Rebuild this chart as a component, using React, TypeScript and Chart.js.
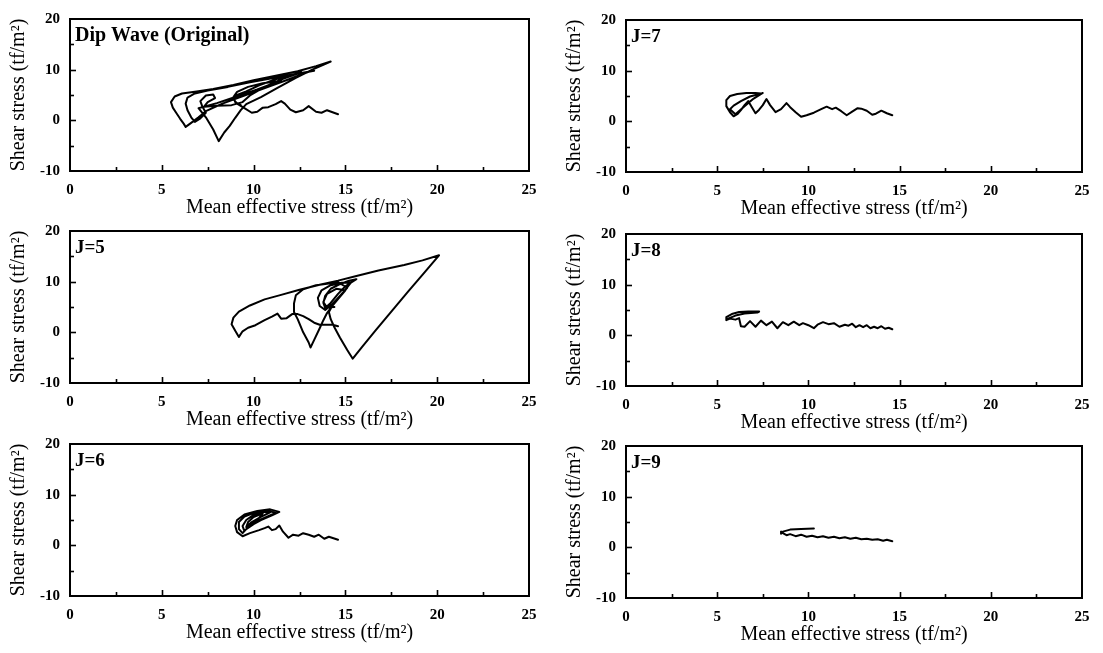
import React, { useEffect, useRef } from "react";
import { Chart, registerables } from "chart.js";

Chart.register(...registerables);

// ---------- axis content ----------
const xTicks = [0, 5, 10, 15, 20, 25];
const yTicks = [-10, 0, 10, 20];
const xMinorTicks = [2.5, 5, 7.5, 10, 12.5, 15, 17.5, 20, 22.5];
const yMinorTicks = [-5, 0, 5, 10, 15];
const xTitle = "Mean effective stress (tf/m²)";
const yTitle = "Shear stress (tf/m²)";

// ---------- stress paths [p', q] ----------
const dipWaveOriginal: number[][] = [
  [14.6, 1.2], [14.3, 1.6], [14.0, 2.0], [13.7, 1.5], [13.4, 1.7], [13.0, 2.8], [12.7, 2.0], [12.3, 1.6],
  [12.0, 2.1], [11.7, 3.3], [11.5, 3.8], [11.2, 3.2], [10.8, 2.6], [10.5, 2.5], [10.2, 1.7], [9.9, 1.5],
  [9.5, 2.4], [9.1, 3.3], [8.9, 4.2], [9.1, 5.0], [9.6, 5.7], [10.3, 6.9], [11.2, 8.1], [12.0, 8.9], [12.6, 9.5],
  [11.6, 8.2], [10.6, 6.6], [9.8, 4.9], [9.4, 3.6], [8.8, 3.0], [8.0, 2.9], [7.3, 2.7], [7.0, 2.4],
  [7.4, 0.6], [7.8, -1.8], [8.1, -4.1], [8.4, -2.4], [8.7, -1.1], [9.0, 0.5], [9.3, 2.0], [9.6, 3.2],
  [10.4, 4.6], [11.3, 6.4], [12.3, 8.4], [13.2, 10.0], [14.2, 11.6],
  [13.4, 10.7], [12.4, 9.7], [11.2, 8.8], [10.0, 7.9], [8.9, 7.0], [7.8, 6.2], [6.9, 5.7], [6.1, 5.3],
  [5.7, 4.7], [5.5, 3.6], [5.6, 2.5], [5.8, 1.4], [6.0, 0.3], [6.2, -0.7], [6.3, -1.3],
  [6.6, -0.5], [7.0, 0.6], [7.4, 1.8], [8.3, 3.3], [9.5, 4.9], [10.8, 6.6], [12.0, 8.2], [13.0, 9.6], [13.3, 9.8],
  [12.2, 9.1], [11.0, 8.3], [9.8, 7.5], [8.6, 6.6], [7.5, 5.9], [6.8, 5.3], [6.4, 4.5], [6.3, 3.3], [6.4, 2.0],
  [6.6, 0.6], [6.8, -0.3], [7.1, 0.4], [7.4, 1.5], [7.2, 2.8], [7.1, 3.8], [7.4, 4.9], [7.8, 5.1], [7.9, 4.4],
  [7.5, 3.6], [7.3, 2.7], [8.0, 3.4], [9.0, 4.6], [10.2, 6.1], [11.0, 7.2], [11.5, 7.8],
  [10.5, 7.3], [9.7, 6.6], [9.1, 5.6], [8.9, 4.6], [9.0, 3.6], [9.3, 3.0],
];

const j5Path: number[][] = [
  [14.6, 1.2], [14.3, 1.5], [14.0, 1.5], [13.6, 1.5], [13.3, 1.9], [13.0, 2.6], [12.7, 3.2], [12.4, 3.6],
  [12.1, 3.6], [11.8, 2.8], [11.5, 2.7], [11.3, 3.7], [11.0, 3.1], [10.6, 2.4], [10.1, 1.4], [9.7, 0.9],
  [9.4, 0.2], [9.2, -0.9], [9.0, 0.3], [8.8, 1.6], [8.9, 2.9], [9.2, 4.1], [9.8, 5.3], [10.6, 6.5],
  [11.5, 7.4], [12.5, 8.4], [13.6, 9.4], [14.6, 10.2], [15.6, 11.1], [16.8, 12.2], [18.2, 13.3], [19.2, 14.2],
  [20.1, 15.2], [19.3, 11.8], [18.4, 8.0], [17.5, 4.1], [16.6, 0.2], [15.9, -2.9], [15.4, -5.2],
  [15.1, -3.5], [14.7, -1.0], [14.4, 1.0], [14.2, 2.6], [14.1, 4.0], [14.4, 6.0], [14.9, 8.0], [15.3, 9.8],
  [15.6, 10.5], [15.2, 10.2], [14.7, 9.5], [14.2, 8.6], [13.9, 7.2], [13.8, 5.8], [13.9, 4.8], [14.2, 5.8],
  [14.6, 7.6], [15.0, 9.1], [15.3, 9.8], [14.8, 9.8], [14.2, 9.3], [13.7, 8.3], [13.5, 6.8], [13.6, 5.2],
  [13.9, 4.4], [14.3, 5.6], [14.8, 7.6], [15.1, 8.8], [14.6, 9.9], [13.4, 9.3], [12.7, 8.5], [12.3, 7.3],
  [12.2, 5.7], [12.2, 4.0], [12.4, 2.6], [12.7, 0.0], [13.0, -2.0], [13.1, -3.0], [13.3, -1.5], [13.6, 0.8],
  [13.8, 2.4], [14.0, 3.8], [14.3, 5.3], [14.7, 7.0], [15.0, 8.3], [14.5, 8.6], [14.0, 7.6], [13.8, 6.0],
  [14.0, 4.9], [14.4, 5.0],
];

const j6Path: number[][] = [
  [14.6, 1.1], [14.35, 1.4], [14.1, 1.7], [13.85, 1.3], [13.55, 2.1], [13.3, 1.7], [13.0, 2.1], [12.7, 2.4],
  [12.45, 1.9], [12.15, 2.1], [11.9, 1.5], [11.6, 2.7], [11.4, 3.9], [11.2, 3.2], [11.0, 3.0], [10.8, 3.7],
  [10.6, 3.4], [10.3, 3.0], [9.8, 2.4], [9.4, 1.8], [9.1, 2.6], [9.0, 3.8], [9.1, 5.0], [9.5, 6.1],
  [10.2, 6.8], [10.9, 7.1], [11.4, 6.6], [11.0, 5.9], [10.4, 5.0], [10.0, 4.2], [9.6, 3.2], [9.4, 2.4],
  [9.2, 3.2], [9.2, 4.6], [9.5, 5.7], [10.1, 6.5], [10.8, 6.8], [11.2, 6.4], [10.7, 5.6], [10.1, 4.6],
  [9.7, 3.6], [9.5, 2.8], [9.4, 3.8], [9.6, 5.0], [10.0, 6.0], [10.6, 6.6], [10.9, 6.5], [10.4, 5.6],
  [9.9, 4.6], [9.6, 3.6], [9.7, 4.6], [10.0, 5.6], [10.5, 6.3], [10.3, 5.4], [9.9, 4.4],
];

const j7Path: number[][] = [
  [14.6, 1.2], [14.3, 1.6], [14.0, 2.1], [13.7, 1.5], [13.5, 1.3], [13.2, 2.1], [12.9, 2.5], [12.7, 2.6],
  [12.4, 1.9], [12.1, 1.2], [11.8, 2.0], [11.5, 2.7], [11.3, 2.4], [11.0, 2.9], [10.7, 2.4], [10.3, 1.7],
  [9.9, 1.2], [9.6, 0.9], [9.3, 1.8], [9.0, 2.8], [8.8, 3.6], [8.5, 2.4], [8.2, 1.8], [7.9, 3.2],
  [7.7, 4.4], [7.5, 3.2], [7.3, 2.3], [7.1, 1.6], [6.9, 2.8], [6.7, 4.0], [6.5, 3.2], [6.3, 2.2],
  [6.1, 1.4], [5.9, 1.0], [5.7, 1.8], [5.5, 3.0], [5.5, 4.2], [5.7, 5.0], [6.1, 5.4], [6.6, 5.6],
  [7.1, 5.6], [7.4, 5.5], [6.8, 4.9], [6.3, 4.0], [5.9, 3.1], [5.7, 2.4], [6.0, 1.4], [6.5, 3.0],
  [7.0, 4.5], [7.5, 5.6],
];

const j8Path: number[][] = [
  [14.6, 1.2], [14.4, 1.5], [14.2, 1.3], [14.0, 1.8], [13.8, 1.4], [13.6, 1.7], [13.4, 1.4], [13.2, 2.0],
  [13.0, 1.6], [12.8, 2.0], [12.6, 1.6], [12.4, 2.3], [12.2, 1.9], [12.0, 2.1], [11.7, 1.7], [11.4, 2.4],
  [11.1, 2.2], [10.8, 2.6], [10.5, 2.1], [10.3, 1.4], [10.0, 2.0], [9.7, 2.4], [9.5, 2.0], [9.2, 2.7],
  [8.9, 2.0], [8.6, 2.6], [8.3, 1.4], [8.0, 2.7], [7.7, 2.0], [7.4, 2.9], [7.1, 1.7], [6.8, 2.8],
  [6.5, 1.7], [6.3, 1.8], [6.2, 3.4], [6.0, 3.1], [5.7, 3.3], [5.5, 3.0], [5.5, 3.6], [5.8, 4.2],
  [6.2, 4.6], [6.7, 4.7], [7.3, 4.7], [7.2, 4.5], [6.5, 4.3], [6.0, 3.9], [5.6, 3.3],
];

const j9Path: number[][] = [
  [14.6, 1.2], [14.3, 1.5], [14.1, 1.3], [13.8, 1.6], [13.5, 1.5], [13.2, 1.7], [12.9, 1.6], [12.6, 1.9],
  [12.3, 1.7], [12.0, 2.0], [11.7, 1.8], [11.4, 2.1], [11.1, 1.9], [10.8, 2.2], [10.5, 2.0], [10.2, 2.3],
  [9.9, 2.1], [9.6, 2.5], [9.3, 2.2], [9.0, 2.6], [8.8, 2.4], [8.6, 2.8], [8.5, 3.1], [8.5, 2.7],
  [8.6, 3.1], [9.0, 3.5], [9.6, 3.6], [10.3, 3.7],
];

// ---------- panel layout (page pixels of each plot frame) ----------
const panels = [
  { label: "Dip Wave (Original)", labelSize: 20, path: dipWaveOriginal, colX: 0, colW: 552, L: 70, T: 16, R: 529, B: 171 },
  { label: "J=7", labelSize: 19, path: j7Path, colX: 552, colW: 551, L: 626, T: 17, R: 1082, B: 172 },
  { label: "J=5", labelSize: 19, path: j5Path, colX: 0, colW: 552, L: 70, T: 228, R: 529, B: 383 },
  { label: "J=8", labelSize: 19, path: j8Path, colX: 552, colW: 551, L: 626, T: 231, R: 1082, B: 386 },
  { label: "J=6", labelSize: 19, path: j6Path, colX: 0, colW: 552, L: 70, T: 441, R: 529, B: 596 },
  { label: "J=9", labelSize: 19, path: j9Path, colX: 552, colW: 551, L: 626, T: 443, R: 1082, B: 598 },
];

const SERIF = '"Liberation Serif", "Times New Roman", serif';
const TOP_PAD = 16;
const X_AXIS_H = 60;

const framePlugin = {
  id: "frameTicks",
  afterDraw(chart: any, _args: any, opts: any) {
    const { ctx, chartArea: a, scales } = chart;
    ctx.save();
    ctx.strokeStyle = "#000";
    ctx.lineWidth = 2;
    ctx.strokeRect(a.left, a.top, a.right - a.left, a.bottom - a.top);
    ctx.lineWidth = 1.6;
    xMinorTicks.forEach((v) => {
      const px = Math.round(scales.x.getPixelForValue(v)) + 0.5;
      const len = v % 5 === 0 ? 6 : 4;
      ctx.beginPath();
      ctx.moveTo(px, a.bottom);
      ctx.lineTo(px, a.bottom - len);
      ctx.stroke();
    });
    yMinorTicks.forEach((v) => {
      const py = Math.round(scales.y.getPixelForValue(v)) + 0.5;
      const len = v % 10 === 0 ? 6 : 4;
      ctx.beginPath();
      ctx.moveTo(a.left, py);
      ctx.lineTo(a.left + len, py);
      ctx.stroke();
    });
    ctx.fillStyle = "#000";
    ctx.font = `bold ${opts.size}px ${SERIF}`;
    ctx.textBaseline = "middle";
    ctx.textAlign = "left";
    ctx.fillText(opts.label, a.left + 5, a.top + 17);
    ctx.restore();
  },
};

function Panel(props: { p: (typeof panels)[number] }) {
  const { p } = props;
  const ref = useRef<HTMLCanvasElement | null>(null);
  const height = p.B - p.T + TOP_PAD + X_AXIS_H;
  useEffect(() => {
    const yAxisW = p.L - p.colX;
    const chart = new Chart(ref.current as HTMLCanvasElement, {
      type: "scatter",
      data: {
        datasets: [
          {
            data: p.path.map(([x, y]) => ({ x, y })),
            showLine: true,
            borderColor: "#000",
            borderWidth: 2,
            pointRadius: 0,
            tension: 0,
            borderJoinStyle: "round",
            borderCapStyle: "round",
          } as any,
        ],
      },
      options: {
        responsive: false,
        animation: false,
        events: [],
        layout: { padding: { top: TOP_PAD, right: p.colX + p.colW - p.R, left: 0, bottom: 0 } },
        plugins: {
          legend: { display: false },
          tooltip: { enabled: false },
          frameTicks: { label: p.label, size: p.labelSize },
        } as any,
        scales: {
          x: {
            type: "linear",
            min: 0,
            max: 25,
            grid: { display: false, drawTicks: false },
            border: { display: false },
            afterBuildTicks: (s: any) => {
              s.ticks = xTicks.map((v) => ({ value: v }));
            },
            afterFit: (s: any) => {
              s.height = X_AXIS_H;
            },
            ticks: {
              color: "#000",
              padding: 10,
              maxRotation: 0,
              font: { family: SERIF, size: 15, weight: "bold" },
            },
            title: {
              display: true,
              text: xTitle,
              color: "#000",
              font: { family: SERIF, size: 20 },
              padding: { top: 0, bottom: 11 },
            },
          },
          y: {
            type: "linear",
            min: -10,
            max: 20,
            grid: { display: false, drawTicks: false },
            border: { display: false },
            afterBuildTicks: (s: any) => {
              s.ticks = yTicks.map((v) => ({ value: v }));
            },
            afterFit: (s: any) => {
              s.width = yAxisW;
            },
            ticks: {
              color: "#000",
              padding: 10,
              font: { family: SERIF, size: 15, weight: "bold" },
            },
            title: {
              display: true,
              text: yTitle,
              color: "#000",
              font: { family: SERIF, size: 20 },
              padding: { top: yAxisW - 51 - 12, bottom: 0 },
            },
          },
        },
      } as any,
      plugins: [framePlugin as any],
    });
    return () => chart.destroy();
  }, []);
  return (
    <canvas
      ref={ref}
      width={p.colW}
      height={height}
      style={{ position: "absolute", left: p.colX, top: p.T - TOP_PAD, width: p.colW, height }}
    />
  );
}

export default function App() {
  return (
    <div
      style={{
        position: "absolute",
        left: 0,
        top: 0,
        width: 1103,
        height: 653,
        overflow: "hidden",
        background: "#fff",
      }}
    >
      {panels.map((p) => (
        <Panel key={p.label} p={p} />
      ))}
    </div>
  );
}
